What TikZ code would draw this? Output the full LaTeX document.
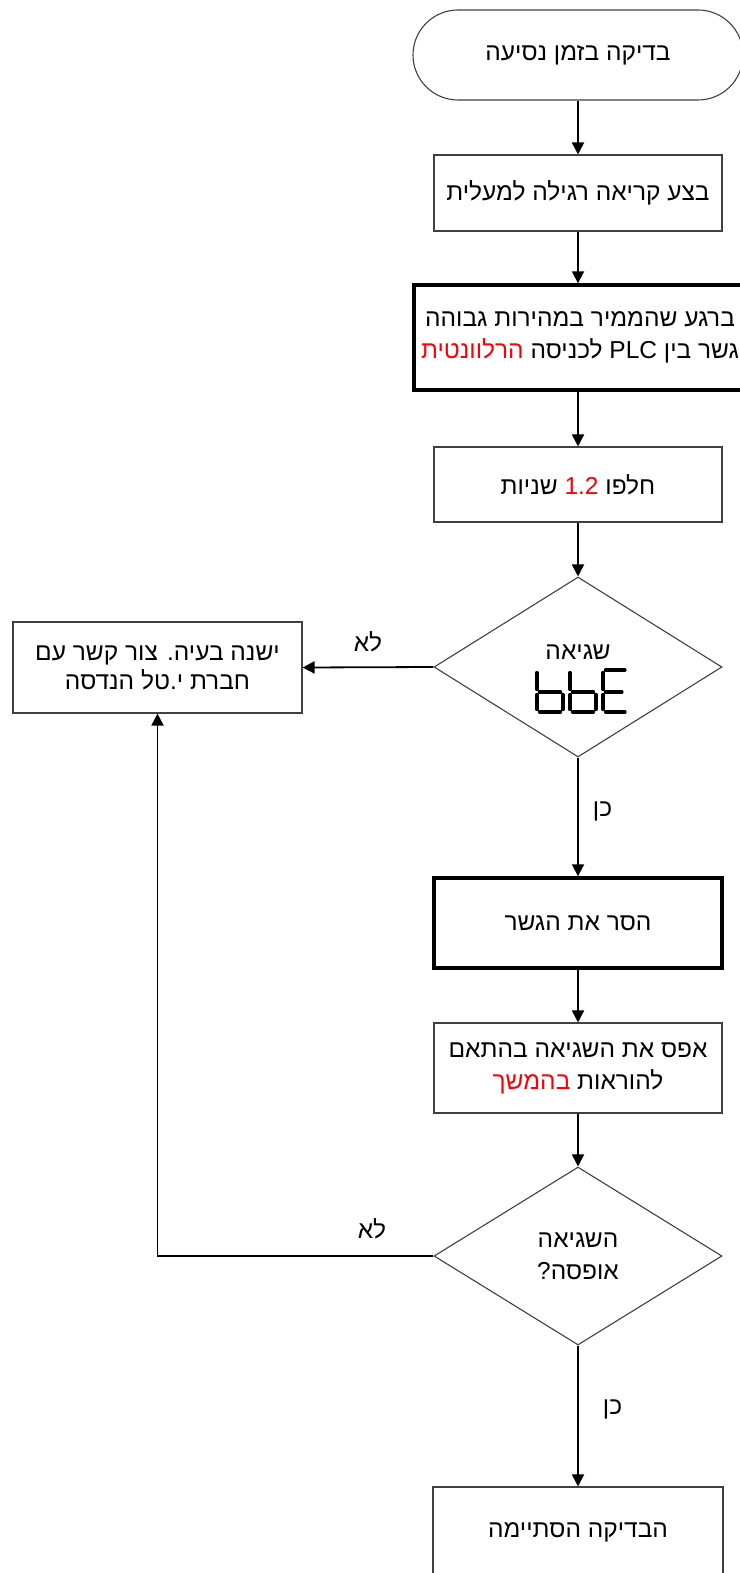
\documentclass[tikz,border=0pt]{standalone}
\usepackage{fontspec}
\setmainfont{Liberation Sans}[Script=Hebrew]
\TeXXeTstate=1
\usetikzlibrary{shapes.geometric,arrows.meta}
\definecolor{edge}{HTML}{404040}
\definecolor{hot}{HTML}{FF0000}
\newcommand{\hebr}[1]{\beginR #1\endR}
\begin{document}
\begin{tikzpicture}[x=1pt,y=-1pt,
  font=\fontsize{24.5}{32}\selectfont,
  thinbox/.style={draw=edge, line width=1.1pt, minimum width=288pt, minimum height=76pt, inner sep=0pt, align=center},
  thickbox/.style={draw=black, line width=3.4pt, minimum width=288pt, minimum height=90pt, inner sep=0pt, align=center},
  decision/.style={diamond, draw=edge, line width=1.1pt, minimum width=288pt, minimum height=180pt, inner sep=0pt, align=center},
  term/.style={draw=edge, line width=1.1pt, rounded corners=45pt, minimum width=330pt, minimum height=90pt, inner sep=0pt},
  arr/.style={draw=black, line width=1.8pt, -{Triangle[length=12pt,width=12pt]}},
  lbl/.style={inner sep=0pt},
  seg/.style={draw=black, line width=3.2pt, line cap=round}]
\useasboundingbox (0,0) rectangle (739,1573);

\node[term] (start) at (578,55) {\hebr{בדיקה בזמן נסיעה}};
\node[thinbox] (read) at (578,193) {\hebr{בצע קריאה רגילה למעלית}};
\node[thickbox, minimum width=332pt, minimum height=105pt] (bridge) at (580,337.5)
  {\hebr{ברגע שהממיר במהירות גבוהה}\\
   \textcolor{hot}{\hebr{הרלוונטית}} \hebr{לכניסה} PLC \hebr{גשר בין}};
\node[thinbox, minimum height=75pt] (wait) at (578,484.5) {\hebr{שניות} \textcolor{hot}{1.2} \hebr{חלפו}};
\node[decision] (err) at (578,667) {};
\node[lbl] (errtxt) at (578,652) {\hebr{שגיאה}};
\node[thinbox, minimum width=289pt, minimum height=91pt, font=\fontsize{24.5}{29}\selectfont] (call) at (157.5,667.5)
  {\hebr{ישנה בעיה. צור קשר עם}\\ \hebr{חברת י.טל הנדסה}};
\node[thickbox] (remove) at (578,923) {\hebr{הסר את הגשר}};
\node[thinbox, minimum height=90pt] (reset) at (578,1068)
  {\hebr{אפס את השגיאה בהתאם}\\ \textcolor{hot}{\hebr{בהמשך}} \hebr{להוראות}};
\node[decision, minimum height=178pt] (ok) at (578,1256) {\hebr{השגיאה}\\ \hebr{אופסה?}};
\node[thinbox, minimum width=290pt, minimum height=90pt] (done) at (578,1532) {\hebr{הבדיקה הסתיימה}};

% seven-segment "bbE"
\draw[seg] (537,672.5)--(537,689.5) (537,694.5)--(537,709.5) (539.5,692)--(560.5,692)
  (563,694.5)--(563,709.5) (539.5,712)--(560.5,712);
\draw[seg] (570,672.5)--(570,689.5) (570,694.5)--(570,709.5) (572.5,692)--(593.5,692)
  (596,694.5)--(596,709.5) (572.5,712)--(593.5,712);
\draw[seg] (605.5,670)--(625,670) (603,672.5)--(603,689.5) (605.5,692)--(622,692)
  (603,694.5)--(603,709.5) (605.5,712)--(625,712);

\draw[arr] (start.south) -- (read.north);
\draw[arr] (read.south) -- (bridge.north -| read.south);
\draw[arr] (bridge.south -| read.south) -- (wait.north);
\draw[arr] (wait.south) -- (err.north);
\draw[arr] (err.west) -- (call.east) node[lbl, pos=0.5, above=14pt] (no1) {\hebr{לא}};
\draw[arr] (err.south) -- (remove.north) node[lbl, pos=0.45, right=14pt] (yes1) {\hebr{כן}};
\draw[arr] (remove.south) -- (reset.north);
\draw[arr] (reset.south) -- (ok.north);
\draw[arr] (ok.south) -- (done.north) node[lbl, pos=0.45, right=24pt] (yes2) {\hebr{כן}};
\draw[arr] (ok.west) -- (ok.west -| call.south) -- (call.south);
\node[lbl] (no2) at (372,1229) {\hebr{לא}};
\end{tikzpicture}
\end{document}
